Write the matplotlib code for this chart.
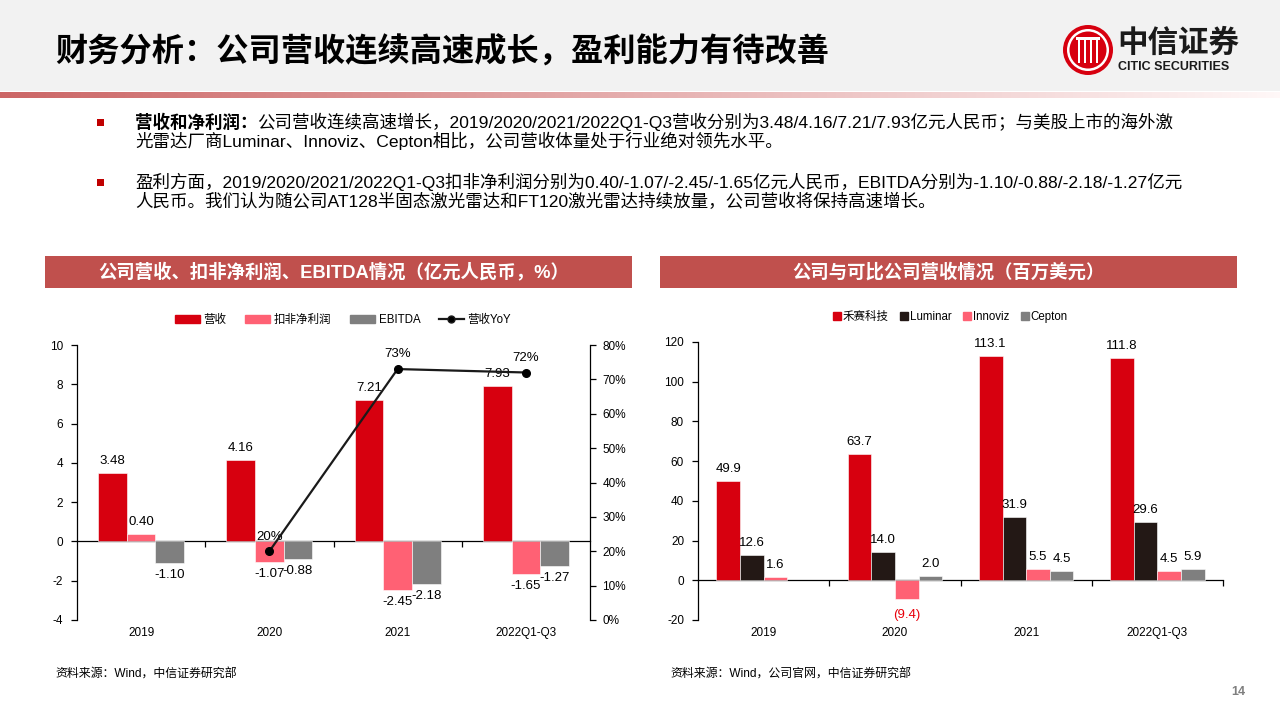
import matplotlib
matplotlib.use('Agg')
import matplotlib.pyplot as plt
import matplotlib.transforms as mtransforms
from matplotlib.patches import Rectangle, Circle, Patch
from matplotlib.lines import Line2D
from matplotlib.ticker import FuncFormatter
import numpy as np

FAM = ['Liberation Sans', 'Noto Sans CJK SC']
CJKB = ['Noto Sans CJK SC', 'DejaVu Sans']
plt.rcParams['font.family'] = FAM
plt.rcParams['axes.unicode_minus'] = False

# ---------------- data ----------------
years = ['2019', '2020', '2021', '2022Q1-Q3']
revenue = [3.48, 4.16, 7.21, 7.93]
np_adj = [0.40, -1.07, -2.45, -1.65]
ebitda = [-1.10, -0.88, -2.18, -1.27]
yoy_years = [1, 2, 3]
yoy = [0.20, 0.73, 0.72]
left_series = ['营收', '扣非净利润', 'EBITDA', '营收YoY']

peers = ['禾赛科技', 'Luminar', 'Innoviz', 'Cepton']
hesai = [49.9, 63.7, 113.1, 111.8]
luminar = [12.6, 14.0, 31.9, 29.6]
innoviz = [1.6, -9.4, 5.5, 4.5]
cepton = [np.nan, 2.0, 4.5, 5.9]

title = '财务分析：公司营收连续高速成长，盈利能力有待改善'
b1_bold = '营收和净利润：'
b1_l1 = '公司营收连续高速增长，2019/2020/2021/2022Q1-Q3营收分别为3.48/4.16/7.21/7.93亿元人民币；与美股上市的海外激'
b1_l2 = '光雷达厂商Luminar、Innoviz、Cepton相比，公司营收体量处于行业绝对领先水平。'
b2_l1 = '盈利方面，2019/2020/2021/2022Q1-Q3扣非净利润分别为0.40/-1.07/-2.45/-1.65亿元人民币，EBITDA分别为-1.10/-0.88/-2.18/-1.27亿元'
b2_l2 = '人民币。我们认为随公司AT128半固态激光雷达和FT120激光雷达持续放量，公司营收将保持高速增长。'
hdr_left = '公司营收、扣非净利润、EBITDA情况（亿元人民币，%）'
hdr_right = '公司与可比公司营收情况（百万美元）'
src_left = '资料来源：Wind，中信证券研究部'
src_right = '资料来源：Wind，公司官网，中信证券研究部'

RED = '#d7000f'
PINK = '#ff6174'
GRAY = '#7f7f7f'
DARK = '#231815'
HDR = '#c0504d'

fig = plt.figure(figsize=(12.8, 7.2), dpi=100)
ax0 = fig.add_axes([0, 0, 1, 1], zorder=0)
ax0.axis('off')

# header
ax0.add_patch(Rectangle((0, 0), 1280, 91, color='#f2f2f2', lw=0))
grad = np.linspace(0, 1, 256)
c0 = np.array([0.80, 0.40, 0.40])
c1 = np.array([1.0, 0.97, 0.97])
img = (c0[None, :] * (1 - grad[:, None]) + c1[None, :] * grad[:, None])[None, :, :]
ax0.imshow(img, extent=(0, 1280, 98, 92), aspect='auto', interpolation='bilinear')
ax0.set_xlim(0, 1280)
ax0.set_ylim(720, 0)

ax0.text(55, 52, title, fontsize=23.2, fontweight='bold', va='center', ha='left',
         family=CJKB, color='black')

# logo
cx, cy = 1088, 50
ax0.add_patch(Circle((cx, cy), 25, color=RED, lw=0))
ax0.add_patch(Circle((cx, cy), 21, color='white', lw=0))
ax0.add_patch(Circle((cx, cy), 18.5, color=RED, lw=0))
for dx in (-9, -3, 3, 9):
    ax0.add_patch(Rectangle((cx + dx - 1.3, cy - 13), 2.6, 26, color='white', lw=0))
ax0.add_patch(Rectangle((cx - 12, cy - 13), 24, 2.6, color='white', lw=0))
ax0.text(1117, 43, '中信证券', fontsize=22, fontweight='bold', va='center', ha='left',
         family=CJKB, color='#1a1a1a')
ax0.text(1118, 67, 'CITIC SECURITIES', fontsize=9.0, fontweight='bold', va='center', ha='left',
         family=['Liberation Sans'], color='#1a1a1a')

# bullets
for by in (122, 182):
    ax0.add_patch(Rectangle((97, by - 3.5), 7, 7, color='#c00000', lw=0))
BFS = 12.6
t = ax0.text(135, 122, b1_bold, fontsize=BFS, fontweight='bold', va='center', ha='left', family=FAM)
fig.canvas.draw()
r = fig.canvas.get_renderer()
bb = t.get_window_extent(r)
ax0.text(135 + bb.width, 122, b1_l1, fontsize=BFS, va='center', ha='left', family=FAM)
ax0.text(135, 141, b1_l2, fontsize=BFS, va='center', ha='left', family=FAM)
ax0.text(135, 182, b2_l1, fontsize=BFS, va='center', ha='left', family=FAM)
ax0.text(135, 201, b2_l2, fontsize=BFS, va='center', ha='left', family=FAM)

# chart headers
ax0.add_patch(Rectangle((45, 256), 587, 32, color=HDR, lw=0))
ax0.add_patch(Rectangle((660, 256), 577, 32, color=HDR, lw=0))
ax0.text(334, 272, hdr_left, fontsize=13.2, fontweight='bold', color='white', va='center', ha='center', family=FAM)
ax0.text(948, 272, hdr_right, fontsize=13.2, fontweight='bold', color='white', va='center', ha='center', family=FAM)

# sources and page number
ax0.text(55, 675, src_left, fontsize=8.6, va='center', ha='left', family=FAM)
ax0.text(670, 675, src_right, fontsize=8.6, va='center', ha='left', family=FAM)
ax0.text(1245, 692, '14', fontsize=9, fontweight='bold', va='center', ha='right', color='#7f7f7f')

TFS = 8.5
LFS = 9.5

def style_axis(ax):
    for s in ('top', 'right'):
        ax.spines[s].set_visible(False)
    ax.spines['bottom'].set_position(('data', 0))
    ax.spines['left'].set_linewidth(0.9)
    ax.spines['bottom'].set_linewidth(0.9)
    ax.tick_params(axis='y', direction='out', length=4, width=0.9, labelsize=TFS, pad=6)
    ax.tick_params(axis='x', direction='out', length=4, width=0.9, labelbottom=False)
    ax.patch.set_alpha(0)

# ---------------- left chart ----------------
axL = fig.add_axes([77 / 1280, 1 - 620 / 720, 513 / 1280, 275 / 720], zorder=2)
x = np.arange(len(years))
w = 0.223
axL.bar(x - w, revenue, w, color=RED, edgecolor='white', linewidth=0.4, zorder=3)
axL.bar(x, np_adj, w, color=PINK, edgecolor='white', linewidth=0.4, zorder=3)
axL.bar(x + w, ebitda, w, color=GRAY, edgecolor='white', linewidth=0.4, zorder=3)
axL.set_xlim(-0.5, 3.5)
axL.set_ylim(-4, 10)
axL.set_yticks(range(-4, 11, 2))
style_axis(axL)
axL.set_xticks([0.5, 1.5, 2.5])
for i, lab in enumerate(years):
    axL.text(i, -13 / 275, lab, transform=axL.get_xaxis_transform(), ha='center', va='center', fontsize=TFS)

def label_bars(ax, xs, vals, fmt, color='black', pos_off=12, neg_off=12, neg_fmt=None, neg_color=None):
    for xi, v in zip(xs, vals):
        if v is None or (isinstance(v, float) and np.isnan(v)):
            continue
        if v >= 0:
            ax.annotate(fmt.format(v), (xi, v), xytext=(0, pos_off * 0.72), textcoords='offset points',
                        ha='center', va='center', fontsize=LFS, color=color)
        else:
            s = neg_fmt.format(abs(v)) if neg_fmt else fmt.format(v)
            ax.annotate(s, (xi, v), xytext=(0, -neg_off * 0.72), textcoords='offset points',
                        ha='center', va='center', fontsize=LFS, color=neg_color or color)

label_bars(axL, x - w, revenue, '{:.2f}')
label_bars(axL, x, np_adj, '{:.2f}')
label_bars(axL, x + w, ebitda, '{:.2f}')

axR = axL.twinx()
axR.set_ylim(0, 0.8)
axR.set_yticks(np.arange(0, 0.81, 0.1))
axR.yaxis.set_major_formatter(FuncFormatter(lambda v, p: f'{v * 100:.0f}%'))
for s in ('top', 'left', 'bottom'):
    axR.spines[s].set_visible(False)
axR.spines['right'].set_linewidth(0.9)
axR.tick_params(axis='y', direction='out', length=4, width=0.9, labelsize=TFS, pad=5)
axR.plot(yoy_years, yoy, color='#1a1a1a', lw=1.6, marker='o', ms=5.5, mfc='black', mec='black', zorder=5)
for xi, v in zip(yoy_years, yoy):
    axR.annotate(f'{v * 100:.0f}%', (xi, v), xytext=(0, 10.5), textcoords='offset points',
                 ha='center', va='center', fontsize=LFS)

hL = [Patch(color=RED), Patch(color=PINK), Patch(color=GRAY),
      Line2D([], [], color='#1a1a1a', lw=1.6, marker='o', ms=5, mfc='black')]
fig.legend(hL, left_series, loc='center', bbox_to_anchor=(343 / 1280, 1 - 320 / 720), ncol=4,
           frameon=False, fontsize=8.3, handlelength=2.2, handleheight=0.6, handletextpad=0.3,
           columnspacing=1.6)

# ---------------- right chart ----------------
axP = fig.add_axes([698 / 1280, 1 - 620 / 720, 525 / 1280, 278 / 720], zorder=2)
w2 = 0.18
series2 = [hesai, luminar, innoviz, cepton]
cols2 = [RED, DARK, PINK, GRAY]
for k, (vals, c) in enumerate(zip(series2, cols2)):
    xs = x + (k - 1.5) * w2
    axP.bar(xs, vals, w2, color=c, edgecolor='white', linewidth=0.4, zorder=3)
    if k == 2:
        label_bars(axP, xs, vals, '{:.1f}', neg_fmt='({:.1f})', neg_color='#e8000b', neg_off=16)
    else:
        label_bars(axP, xs, vals, '{:.1f}')
axP.set_xlim(-0.5, 3.5)
axP.set_ylim(-20, 120)
axP.set_yticks(range(-20, 121, 20))
style_axis(axP)
axP.set_xticks([0.5, 1.5, 2.5, 3.5])
for i, lab in enumerate(years):
    axP.text(i, -13 / 278, lab, transform=axP.get_xaxis_transform(), ha='center', va='center', fontsize=TFS)

hP = [Line2D([], [], color=c, marker='s', ls='none', ms=6) for c in cols2]
fig.legend(hP, peers, loc='center', bbox_to_anchor=(950 / 1280, 1 - 317 / 720), ncol=4,
           frameon=False, fontsize=8.3, handlelength=0.7, handletextpad=0.15, columnspacing=1.0)

fig.savefig('out.png', dpi=100)
